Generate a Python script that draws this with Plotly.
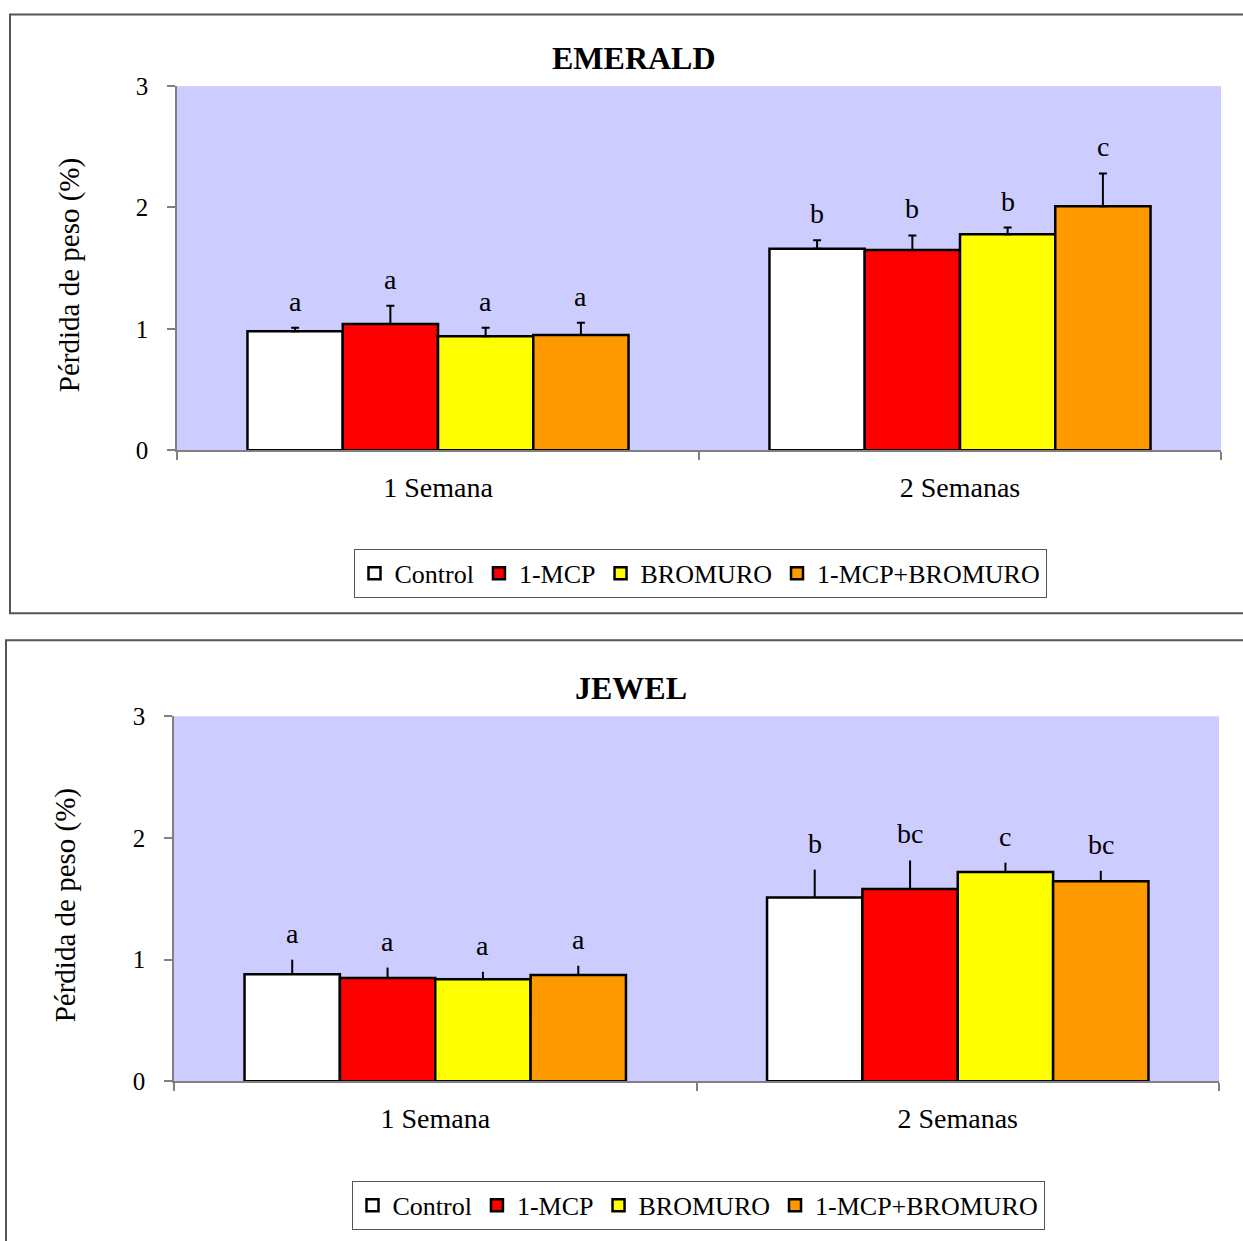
import plotly.graph_objects as go

# ---------------- data ----------------
weeks = ["1 Semana", "2 Semanas"]
treatments = ["Control", "1-MCP", "BROMURO", "1-MCP+BROMURO"]
colors = ["#FFFFFF", "#FF0000", "#FFFF00", "#FF9900"]

# EMERALD: mean weight loss (%) per week
emerald_control = [0.98, 1.66]
emerald_mcp = [1.04, 1.65]
emerald_bromuro = [0.94, 1.78]
emerald_mcp_bromuro = [0.95, 2.01]
# EMERALD: error (upper)
emerald_err_control = [0.03, 0.07]
emerald_err_mcp = [0.15, 0.12]
emerald_err_bromuro = [0.07, 0.055]
emerald_err_mcp_bromuro = [0.10, 0.27]
# EMERALD: significance letters
emerald_lab_control = ["a", "b"]
emerald_lab_mcp = ["a", "b"]
emerald_lab_bromuro = ["a", "b"]
emerald_lab_mcp_bromuro = ["a", "c"]

# JEWEL
jewel_control = [0.88, 1.51]
jewel_mcp = [0.85, 1.58]
jewel_bromuro = [0.84, 1.72]
jewel_mcp_bromuro = [0.875, 1.645]
jewel_err_control = [0.12, 0.23]
jewel_err_mcp = [0.085, 0.235]
jewel_err_bromuro = [0.06, 0.077]
jewel_err_mcp_bromuro = [0.075, 0.085]
jewel_lab_control = ["a", "b"]
jewel_lab_mcp = ["a", "bc"]
jewel_lab_bromuro = ["a", "c"]
jewel_lab_mcp_bromuro = ["a", "bc"]

yticks = [0, 1, 2, 3]

# ---------------- figure ----------------
W, H = 1243, 1241
FONT = "Liberation Serif"
BARGAP = 0.27
# the page is photographed with a slight vertical squeeze; compensate
Y_SCALE, Y_OFF = 0.978, 12.9

def px(x):
    return x / W

def py(y):
    return 1 - ((y - Y_OFF) / Y_SCALE) / H

fig = go.Figure()

charts = [
    dict(name="EMERALD", xa="x", ya="y", legend="legend", caps=4,
         vals=[emerald_control, emerald_mcp, emerald_bromuro, emerald_mcp_bromuro],
         errs=[emerald_err_control, emerald_err_mcp, emerald_err_bromuro, emerald_err_mcp_bromuro],
         labs=[emerald_lab_control, emerald_lab_mcp, emerald_lab_bromuro, emerald_lab_mcp_bromuro]),
    dict(name="JEWEL", xa="x2", ya="y2", legend="legend2", caps=0,
         vals=[jewel_control, jewel_mcp, jewel_bromuro, jewel_mcp_bromuro],
         errs=[jewel_err_control, jewel_err_mcp, jewel_err_bromuro, jewel_err_mcp_bromuro],
         labs=[jewel_lab_control, jewel_lab_mcp, jewel_lab_bromuro, jewel_lab_mcp_bromuro]),
]

annotations = []
n = len(treatments)
bw = (1 - BARGAP) / n
for ch in charts:
    for i, t in enumerate(treatments):
        fig.add_trace(go.Bar(
            x=weeks, y=ch["vals"][i], name=t,
            xaxis=ch["xa"], yaxis=ch["ya"], legend=ch["legend"],
            marker=dict(color=colors[i], line=dict(color="black", width=2.5)),
            error_y=dict(type="data", symmetric=False, array=ch["errs"][i],
                         arrayminus=[0] * len(weeks), color="black",
                         thickness=2, width=ch["caps"]),
        ))
        off = (i - (n - 1) / 2) * bw
        for j, w in enumerate(weeks):
            annotations.append(dict(
                x=j + off, y=ch["vals"][i][j] + ch["errs"][i][j],
                xref=ch["xa"], yref=ch["ya"], text=ch["labs"][i][j],
                showarrow=False, xanchor="center", yanchor="bottom", yshift=9,
                font=dict(family=FONT, size=28, color="black"),
            ))

axis_common = dict(showline=True, linecolor="#808080", linewidth=1.5,
                   ticks="outside", ticklen=8, tickcolor="#808080", tickwidth=1.5,
                   showgrid=False, zeroline=False)

xa = dict(axis_common, type="category", tickson="boundaries", range=[-0.5, 1.5],
          tickfont=dict(family=FONT, size=28, color="black"), ticklabelstandoff=11)
ya = dict(axis_common, range=[0, 3], tickvals=yticks,
          tickfont=dict(family=FONT, size=25, color="black"), ticklabelstandoff=14)

# titles and y-axis titles
title_font = dict(family=FONT, size=32, color="black")
ytitle_font = dict(family=FONT, size=29, color="black")
annotations += [
    dict(text="<b>EMERALD</b>", x=px(634), y=py(58), xref="paper", yref="paper",
         xanchor="center", yanchor="middle", showarrow=False, font=title_font),
    dict(text="<b>JEWEL</b>", x=px(631), y=py(688), xref="paper", yref="paper",
         xanchor="center", yanchor="middle", showarrow=False, font=title_font),
    dict(text="Pérdida de peso (%)", x=px(69), y=py(275), xref="paper", yref="paper",
         xanchor="center", yanchor="middle", textangle=-90, showarrow=False, font=ytitle_font),
    dict(text="Pérdida de peso (%)", x=px(65), y=py(905), xref="paper", yref="paper",
         xanchor="center", yanchor="middle", textangle=-90, showarrow=False, font=ytitle_font),
]

shapes = [
    dict(type="rect", xref="paper", yref="paper", x0=px(10), x1=1.02, y0=py(613),
         y1=1 - 1.5 / H, line=dict(color="#555555", width=2)),
    dict(type="rect", xref="paper", yref="paper", x0=px(6), x1=1.02, y0=-0.02, y1=py(640),
         line=dict(color="#555555", width=2)),
]

legend_common = dict(orientation="h", xanchor="center", yanchor="middle",
                     bgcolor="white", bordercolor="#555555", borderwidth=1,
                     font=dict(family=FONT, size=26, color="black"),
                     itemwidth=30, traceorder="normal")

fig.update_layout(
    width=W, height=H,
    margin=dict(l=0, r=0, t=0, b=0),
    paper_bgcolor="white", plot_bgcolor="#CCCCFF",
    barmode="group", bargap=BARGAP, bargroupgap=0,
    xaxis=dict(xa, domain=[px(177), px(1221)], anchor="y"),
    yaxis=dict(ya, domain=[py(450), py(86)], anchor="x"),
    xaxis2=dict(xa, domain=[px(174), px(1219)], anchor="y2"),
    yaxis2=dict(ya, domain=[py(1081), py(716)], anchor="x2"),
    legend=dict(legend_common, x=px(700), y=py(573)),
    legend2=dict(legend_common, x=px(698), y=py(1205)),
    annotations=annotations,
    shapes=shapes,
    font=dict(family=FONT, color="black"),
)

fig.write_html(
    "out.html",
    config={"displayModeBar": False},
    post_script=(
        "document.body.style.margin='0';"
        "document.documentElement.style.overflow='hidden';"
        "document.body.style.overflow='hidden';"
    ),
)
